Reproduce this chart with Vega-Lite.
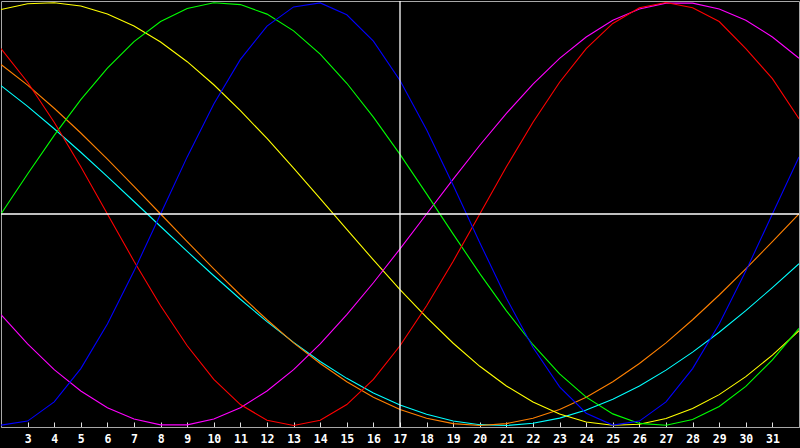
{
  "$schema": "https://vega.github.io/schema/vega-lite/v6.json",
  "width": 798,
  "height": 426,
  "padding": {"left": 1, "top": 1, "right": 1, "bottom": 21},
  "autosize": {"type": "none"},
  "background": "#000000",
  "config": {"view": {"stroke": "#a8a8a8", "strokeWidth": 1}},
  "data": {
    "values": [
      {"day": 2, "cycle": "Spiritual", "value": 0.607},
      {"day": 3, "cycle": "Spiritual", "value": 0.509},
      {"day": 4, "cycle": "Spiritual", "value": 0.403},
      {"day": 5, "cycle": "Spiritual", "value": 0.292},
      {"day": 6, "cycle": "Spiritual", "value": 0.177},
      {"day": 7, "cycle": "Spiritual", "value": 0.059},
      {"day": 8, "cycle": "Spiritual", "value": -0.059},
      {"day": 9, "cycle": "Spiritual", "value": -0.177},
      {"day": 10, "cycle": "Spiritual", "value": -0.292},
      {"day": 11, "cycle": "Spiritual", "value": -0.403},
      {"day": 12, "cycle": "Spiritual", "value": -0.509},
      {"day": 13, "cycle": "Spiritual", "value": -0.607},
      {"day": 14, "cycle": "Spiritual", "value": -0.697},
      {"day": 15, "cycle": "Spiritual", "value": -0.777},
      {"day": 16, "cycle": "Spiritual", "value": -0.846},
      {"day": 17, "cycle": "Spiritual", "value": -0.903},
      {"day": 18, "cycle": "Spiritual", "value": -0.947},
      {"day": 19, "cycle": "Spiritual", "value": -0.979},
      {"day": 20, "cycle": "Spiritual", "value": -0.996},
      {"day": 21, "cycle": "Spiritual", "value": -1.0},
      {"day": 22, "cycle": "Spiritual", "value": -0.989},
      {"day": 23, "cycle": "Spiritual", "value": -0.965},
      {"day": 24, "cycle": "Spiritual", "value": -0.927},
      {"day": 25, "cycle": "Spiritual", "value": -0.876},
      {"day": 26, "cycle": "Spiritual", "value": -0.813},
      {"day": 27, "cycle": "Spiritual", "value": -0.738},
      {"day": 28, "cycle": "Spiritual", "value": -0.653},
      {"day": 29, "cycle": "Spiritual", "value": -0.559},
      {"day": 30, "cycle": "Spiritual", "value": -0.457},
      {"day": 31, "cycle": "Spiritual", "value": -0.348},
      {"day": 32, "cycle": "Spiritual", "value": -0.235},

      {"day": 2, "cycle": "Awareness", "value": 0.707},
      {"day": 3, "cycle": "Awareness", "value": 0.609},
      {"day": 4, "cycle": "Awareness", "value": 0.5},
      {"day": 5, "cycle": "Awareness", "value": 0.383},
      {"day": 6, "cycle": "Awareness", "value": 0.259},
      {"day": 7, "cycle": "Awareness", "value": 0.131},
      {"day": 8, "cycle": "Awareness", "value": 0.0},
      {"day": 9, "cycle": "Awareness", "value": -0.131},
      {"day": 10, "cycle": "Awareness", "value": -0.259},
      {"day": 11, "cycle": "Awareness", "value": -0.383},
      {"day": 12, "cycle": "Awareness", "value": -0.5},
      {"day": 13, "cycle": "Awareness", "value": -0.609},
      {"day": 14, "cycle": "Awareness", "value": -0.707},
      {"day": 15, "cycle": "Awareness", "value": -0.793},
      {"day": 16, "cycle": "Awareness", "value": -0.866},
      {"day": 17, "cycle": "Awareness", "value": -0.924},
      {"day": 18, "cycle": "Awareness", "value": -0.966},
      {"day": 19, "cycle": "Awareness", "value": -0.991},
      {"day": 20, "cycle": "Awareness", "value": -1.0},
      {"day": 21, "cycle": "Awareness", "value": -0.991},
      {"day": 22, "cycle": "Awareness", "value": -0.966},
      {"day": 23, "cycle": "Awareness", "value": -0.924},
      {"day": 24, "cycle": "Awareness", "value": -0.866},
      {"day": 25, "cycle": "Awareness", "value": -0.793},
      {"day": 26, "cycle": "Awareness", "value": -0.707},
      {"day": 27, "cycle": "Awareness", "value": -0.609},
      {"day": 28, "cycle": "Awareness", "value": -0.5},
      {"day": 29, "cycle": "Awareness", "value": -0.383},
      {"day": 30, "cycle": "Awareness", "value": -0.259},
      {"day": 31, "cycle": "Awareness", "value": -0.131},
      {"day": 32, "cycle": "Awareness", "value": 0.0},

      {"day": 2, "cycle": "Aesthetic", "value": 0.967},
      {"day": 3, "cycle": "Aesthetic", "value": 0.994},
      {"day": 4, "cycle": "Aesthetic", "value": 0.999},
      {"day": 5, "cycle": "Aesthetic", "value": 0.983},
      {"day": 6, "cycle": "Aesthetic", "value": 0.946},
      {"day": 7, "cycle": "Aesthetic", "value": 0.889},
      {"day": 8, "cycle": "Aesthetic", "value": 0.813},
      {"day": 9, "cycle": "Aesthetic", "value": 0.72},
      {"day": 10, "cycle": "Aesthetic", "value": 0.611},
      {"day": 11, "cycle": "Aesthetic", "value": 0.489},
      {"day": 12, "cycle": "Aesthetic", "value": 0.357},
      {"day": 13, "cycle": "Aesthetic", "value": 0.217},
      {"day": 14, "cycle": "Aesthetic", "value": 0.073},
      {"day": 15, "cycle": "Aesthetic", "value": -0.073},
      {"day": 16, "cycle": "Aesthetic", "value": -0.217},
      {"day": 17, "cycle": "Aesthetic", "value": -0.357},
      {"day": 18, "cycle": "Aesthetic", "value": -0.489},
      {"day": 19, "cycle": "Aesthetic", "value": -0.611},
      {"day": 20, "cycle": "Aesthetic", "value": -0.72},
      {"day": 21, "cycle": "Aesthetic", "value": -0.813},
      {"day": 22, "cycle": "Aesthetic", "value": -0.889},
      {"day": 23, "cycle": "Aesthetic", "value": -0.946},
      {"day": 24, "cycle": "Aesthetic", "value": -0.983},
      {"day": 25, "cycle": "Aesthetic", "value": -0.999},
      {"day": 26, "cycle": "Aesthetic", "value": -0.994},
      {"day": 27, "cycle": "Aesthetic", "value": -0.967},
      {"day": 28, "cycle": "Aesthetic", "value": -0.92},
      {"day": 29, "cycle": "Aesthetic", "value": -0.854},
      {"day": 30, "cycle": "Aesthetic", "value": -0.769},
      {"day": 31, "cycle": "Aesthetic", "value": -0.667},
      {"day": 32, "cycle": "Aesthetic", "value": -0.552},

      {"day": 2, "cycle": "Intuitive", "value": -0.476},
      {"day": 3, "cycle": "Intuitive", "value": -0.614},
      {"day": 4, "cycle": "Intuitive", "value": -0.736},
      {"day": 5, "cycle": "Intuitive", "value": -0.837},
      {"day": 6, "cycle": "Intuitive", "value": -0.916},
      {"day": 7, "cycle": "Intuitive", "value": -0.969},
      {"day": 8, "cycle": "Intuitive", "value": -0.997},
      {"day": 9, "cycle": "Intuitive", "value": -0.997},
      {"day": 10, "cycle": "Intuitive", "value": -0.969},
      {"day": 11, "cycle": "Intuitive", "value": -0.916},
      {"day": 12, "cycle": "Intuitive", "value": -0.837},
      {"day": 13, "cycle": "Intuitive", "value": -0.736},
      {"day": 14, "cycle": "Intuitive", "value": -0.614},
      {"day": 15, "cycle": "Intuitive", "value": -0.476},
      {"day": 16, "cycle": "Intuitive", "value": -0.325},
      {"day": 17, "cycle": "Intuitive", "value": -0.165},
      {"day": 18, "cycle": "Intuitive", "value": 0.0},
      {"day": 19, "cycle": "Intuitive", "value": 0.165},
      {"day": 20, "cycle": "Intuitive", "value": 0.325},
      {"day": 21, "cycle": "Intuitive", "value": 0.476},
      {"day": 22, "cycle": "Intuitive", "value": 0.614},
      {"day": 23, "cycle": "Intuitive", "value": 0.736},
      {"day": 24, "cycle": "Intuitive", "value": 0.837},
      {"day": 25, "cycle": "Intuitive", "value": 0.916},
      {"day": 26, "cycle": "Intuitive", "value": 0.969},
      {"day": 27, "cycle": "Intuitive", "value": 0.997},
      {"day": 28, "cycle": "Intuitive", "value": 0.997},
      {"day": 29, "cycle": "Intuitive", "value": 0.969},
      {"day": 30, "cycle": "Intuitive", "value": 0.916},
      {"day": 31, "cycle": "Intuitive", "value": 0.837},
      {"day": 32, "cycle": "Intuitive", "value": 0.736},

      {"day": 2, "cycle": "Intellectual", "value": 0.0},
      {"day": 3, "cycle": "Intellectual", "value": 0.189},
      {"day": 4, "cycle": "Intellectual", "value": 0.372},
      {"day": 5, "cycle": "Intellectual", "value": 0.541},
      {"day": 6, "cycle": "Intellectual", "value": 0.69},
      {"day": 7, "cycle": "Intellectual", "value": 0.815},
      {"day": 8, "cycle": "Intellectual", "value": 0.91},
      {"day": 9, "cycle": "Intellectual", "value": 0.972},
      {"day": 10, "cycle": "Intellectual", "value": 0.999},
      {"day": 11, "cycle": "Intellectual", "value": 0.99},
      {"day": 12, "cycle": "Intellectual", "value": 0.945},
      {"day": 13, "cycle": "Intellectual", "value": 0.866},
      {"day": 14, "cycle": "Intellectual", "value": 0.756},
      {"day": 15, "cycle": "Intellectual", "value": 0.618},
      {"day": 16, "cycle": "Intellectual", "value": 0.458},
      {"day": 17, "cycle": "Intellectual", "value": 0.282},
      {"day": 18, "cycle": "Intellectual", "value": 0.095},
      {"day": 19, "cycle": "Intellectual", "value": -0.095},
      {"day": 20, "cycle": "Intellectual", "value": -0.282},
      {"day": 21, "cycle": "Intellectual", "value": -0.458},
      {"day": 22, "cycle": "Intellectual", "value": -0.618},
      {"day": 23, "cycle": "Intellectual", "value": -0.756},
      {"day": 24, "cycle": "Intellectual", "value": -0.866},
      {"day": 25, "cycle": "Intellectual", "value": -0.945},
      {"day": 26, "cycle": "Intellectual", "value": -0.99},
      {"day": 27, "cycle": "Intellectual", "value": -0.999},
      {"day": 28, "cycle": "Intellectual", "value": -0.972},
      {"day": 29, "cycle": "Intellectual", "value": -0.91},
      {"day": 30, "cycle": "Intellectual", "value": -0.815},
      {"day": 31, "cycle": "Intellectual", "value": -0.69},
      {"day": 32, "cycle": "Intellectual", "value": -0.541},

      {"day": 2, "cycle": "Emotional", "value": 0.782},
      {"day": 3, "cycle": "Emotional", "value": 0.623},
      {"day": 4, "cycle": "Emotional", "value": 0.434},
      {"day": 5, "cycle": "Emotional", "value": 0.223},
      {"day": 6, "cycle": "Emotional", "value": 0.0},
      {"day": 7, "cycle": "Emotional", "value": -0.223},
      {"day": 8, "cycle": "Emotional", "value": -0.434},
      {"day": 9, "cycle": "Emotional", "value": -0.623},
      {"day": 10, "cycle": "Emotional", "value": -0.782},
      {"day": 11, "cycle": "Emotional", "value": -0.901},
      {"day": 12, "cycle": "Emotional", "value": -0.975},
      {"day": 13, "cycle": "Emotional", "value": -1.0},
      {"day": 14, "cycle": "Emotional", "value": -0.975},
      {"day": 15, "cycle": "Emotional", "value": -0.901},
      {"day": 16, "cycle": "Emotional", "value": -0.782},
      {"day": 17, "cycle": "Emotional", "value": -0.623},
      {"day": 18, "cycle": "Emotional", "value": -0.434},
      {"day": 19, "cycle": "Emotional", "value": -0.223},
      {"day": 20, "cycle": "Emotional", "value": 0.0},
      {"day": 21, "cycle": "Emotional", "value": 0.223},
      {"day": 22, "cycle": "Emotional", "value": 0.434},
      {"day": 23, "cycle": "Emotional", "value": 0.623},
      {"day": 24, "cycle": "Emotional", "value": 0.782},
      {"day": 25, "cycle": "Emotional", "value": 0.901},
      {"day": 26, "cycle": "Emotional", "value": 0.975},
      {"day": 27, "cycle": "Emotional", "value": 1.0},
      {"day": 28, "cycle": "Emotional", "value": 0.975},
      {"day": 29, "cycle": "Emotional", "value": 0.91},
      {"day": 30, "cycle": "Emotional", "value": 0.782},
      {"day": 31, "cycle": "Emotional", "value": 0.64},
      {"day": 32, "cycle": "Emotional", "value": 0.45},

      {"day": 2, "cycle": "Physical", "value": -0.998},
      {"day": 3, "cycle": "Physical", "value": -0.979},
      {"day": 4, "cycle": "Physical", "value": -0.888},
      {"day": 5, "cycle": "Physical", "value": -0.731},
      {"day": 6, "cycle": "Physical", "value": -0.52},
      {"day": 7, "cycle": "Physical", "value": -0.27},
      {"day": 8, "cycle": "Physical", "value": 0.0},
      {"day": 9, "cycle": "Physical", "value": 0.27},
      {"day": 10, "cycle": "Physical", "value": 0.52},
      {"day": 11, "cycle": "Physical", "value": 0.731},
      {"day": 12, "cycle": "Physical", "value": 0.888},
      {"day": 13, "cycle": "Physical", "value": 0.979},
      {"day": 14, "cycle": "Physical", "value": 0.998},
      {"day": 15, "cycle": "Physical", "value": 0.942},
      {"day": 16, "cycle": "Physical", "value": 0.817},
      {"day": 17, "cycle": "Physical", "value": 0.631},
      {"day": 18, "cycle": "Physical", "value": 0.398},
      {"day": 19, "cycle": "Physical", "value": 0.136},
      {"day": 20, "cycle": "Physical", "value": -0.136},
      {"day": 21, "cycle": "Physical", "value": -0.398},
      {"day": 22, "cycle": "Physical", "value": -0.631},
      {"day": 23, "cycle": "Physical", "value": -0.817},
      {"day": 24, "cycle": "Physical", "value": -0.942},
      {"day": 25, "cycle": "Physical", "value": -0.998},
      {"day": 26, "cycle": "Physical", "value": -0.979},
      {"day": 27, "cycle": "Physical", "value": -0.888},
      {"day": 28, "cycle": "Physical", "value": -0.731},
      {"day": 29, "cycle": "Physical", "value": -0.52},
      {"day": 30, "cycle": "Physical", "value": -0.27},
      {"day": 31, "cycle": "Physical", "value": 0.0},
      {"day": 32, "cycle": "Physical", "value": 0.27}
    ]
  },
  "layer": [
    {
      "mark": {"type": "line", "strokeWidth": 1.1, "clip": true},
      "encoding": {
        "x": {
          "field": "day",
          "type": "quantitative",
          "scale": {"domain": [2, 32], "nice": false, "zero": false},
          "axis": {
            "values": [3, 4, 5, 6, 7, 8, 9, 10, 11, 12, 13, 14, 15, 16, 17, 18, 19, 20, 21, 22, 23, 24, 25, 26, 27, 28, 29, 30, 31],
            "tickCount": 60,
            "format": "d",
            "title": null,
            "grid": false,
            "domainColor": "#a8a8a8",
            "tickColor": "#e0e0e0",
            "tickSize": -5,
            "labelColor": "#ffffff",
            "labelFont": "DejaVu Sans Mono",
            "labelFontWeight": "bold",
            "labelFontSize": 11.5,
            "labelPadding": 11,
            "labelFlush": false,
            "labelOverlap": false
          }
        },
        "y": {
          "field": "value",
          "type": "quantitative",
          "scale": {"domain": [-1.007, 1.007], "nice": false, "zero": false},
          "axis": null
        },
        "color": {
          "field": "cycle",
          "type": "nominal",
          "scale": {
            "domain": ["Spiritual", "Awareness", "Aesthetic", "Intuitive", "Intellectual", "Emotional", "Physical"],
            "range": ["#00ffff", "#ff8000", "#ffff00", "#ff00ff", "#00ff00", "#ff0000", "#0000ff"]
          },
          "legend": null
        }
      }
    },
    {
      "transform": [{"filter": "datum.day == 17 && datum.cycle == 'Physical'"}],
      "mark": {"type": "rule", "color": "#ffffff", "strokeWidth": 1.3},
      "encoding": {"x": {"field": "day", "type": "quantitative"}}
    },
    {
      "transform": [{"filter": "datum.day == 17 && datum.cycle == 'Physical'"}],
      "mark": {"type": "rule", "color": "#ffffff", "strokeWidth": 1.3},
      "encoding": {"y": {"datum": 0}}
    }
  ]
}
